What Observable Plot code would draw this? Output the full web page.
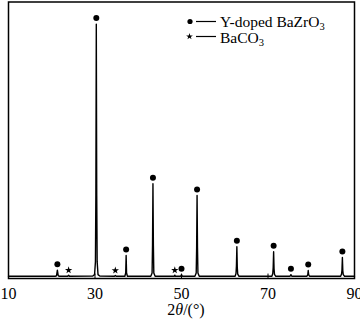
<!DOCTYPE html>
<html>
<head>
<meta charset="utf-8">
<script src="https://cdn.jsdelivr.net/npm/d3@7"></script>
<script src="https://cdn.jsdelivr.net/npm/@observablehq/plot@0.6"></script>
<style>
  html, body { margin: 0; padding: 0; background: #fff; }
  #wrap { position: relative; width: 360px; height: 320px; font-family: "Liberation Serif", "Times New Roman", serif; color: #000; }
  #wrap svg { position: absolute; left: 0; top: 0; }
  .lg { position: absolute; font-size: 15.5px; line-height: 13px; height: 13px; white-space: nowrap; }
  .lg sub { font-size: 10.5px; vertical-align: -3px; line-height: 0; }
  #xt { position: absolute; left: 0; width: 372px; text-align: center; top: 301px; font-size: 16px; }
</style>
</head>
<body>
<div id="wrap">
  <div class="lg" style="left:220px; top:15px;">Y-doped BaZrO<sub>3</sub></div>
  <div class="lg" style="left:220px; top:31px;">BaCO<sub>3</sub></div>
  <div id="xt">2<i>θ</i>/(°)</div>
</div>
<script>
// XRD profile: 2θ (deg) and intensity (a.u., 0–1000)
const twoTheta = [10, 20.8, 21.1, 21.3, 21.5, 21.8, 23.7, 23.9, 24.1, 29.5, 29.9, 30.1, 30.2, 30.3, 30.4, 30.5, 30.7, 31.1,
  34.5, 34.7, 34.9, 36.9, 37.1, 37.2, 37.3, 37.5, 42.9, 43.2, 43.3, 43.4, 43.5, 43.6, 43.9,
  48.3, 48.45, 48.6, 49.8, 50.0, 50.2, 53.1, 53.4, 53.5, 53.6, 53.7, 53.8, 54.1,
  62.4, 62.6, 62.7, 62.8, 62.9, 63.0, 63.3, 70.9, 71.1, 71.2, 71.3, 71.4, 71.5, 71.8,
  75.1, 75.3, 75.5, 79.0, 79.2, 79.3, 79.4, 79.6, 86.8, 87.0, 87.1, 87.2, 87.3, 87.4, 87.7, 90];
const intensity = [8, 8, 10, 30, 10, 8, 8, 12, 8, 9, 14, 60, 300, 920, 300, 60, 14, 9,
  8, 11, 8, 8, 20, 83, 20, 8, 8, 20, 120, 343, 120, 20, 8,
  8, 12, 8, 8, 14, 8, 8, 20, 110, 300, 110, 20, 8,
  8, 18, 45, 115, 40, 16, 8, 8, 18, 40, 97, 35, 15, 8,
  8, 14, 8, 8, 14, 29, 14, 8, 8, 16, 30, 76, 28, 14, 8, 8];

// Peak markers
const bzPeaks = [21.3, 30.3, 37.2, 43.4, 50.0, 53.6, 62.8, 71.3, 75.3, 79.3, 87.2];
const bzHeights = [30, 920, 83, 343, 14, 300, 115, 97, 14, 29, 76];
const bcPeaks = [23.9, 34.7, 48.45];
const bcHeights = [12, 11, 12];

const xTicks = [10, 30, 50, 70, 90];

const profile = twoTheta.map((x, i) => ({x, y: intensity[i]}));
const bz = bzPeaks.map((x, i) => ({x, y: bzHeights[i]}));
const bc = bcPeaks.map((x, i) => ({x, y: bcHeights[i]}));

const chart = Plot.plot({
  width: 360,
  height: 320,
  marginTop: 1.5,
  marginBottom: 42,
  marginLeft: 8,
  marginRight: 6,
  style: {fontFamily: '"Liberation Serif", "Times New Roman", serif', fontSize: "16px", color: "#000", background: "transparent"},
  x: {domain: [10, 90]},
  y: {domain: [0, 1000], axis: null},
  marks: [
    Plot.line(profile, {x: "x", y: "y", stroke: "#000", strokeWidth: 1.4}),
    Plot.dot(bz, {x: "x", y: "y", dy: -6, r: 3, fill: "#000", stroke: "none"}),
    Plot.dot(bc, {x: "x", y: "y", dy: -5, r: 2.3, symbol: "star", fill: "#000", stroke: "none"}),
    Plot.ruleX(xTicks, {y1: 0, y2: 16, stroke: "#000", strokeWidth: 1}),
    Plot.axisX({ticks: xTicks, tickSize: 0, tickPadding: 9, tickFormat: d => String(d), label: null}),
    Plot.frame({stroke: "#000", strokeWidth: 1.5})
  ]
});
const wrap = document.getElementById("wrap");
wrap.insertBefore(chart, wrap.firstChild);

// legend symbols
const ns = "http://www.w3.org/2000/svg";
const lgSvg = document.createElementNS(ns, "svg");
lgSvg.setAttribute("width", 360); lgSvg.setAttribute("height", 60);
lgSvg.style.position = "absolute"; lgSvg.style.left = "0"; lgSvg.style.top = "0";
const c = document.createElementNS(ns, "circle");
c.setAttribute("cx", 190); c.setAttribute("cy", 21.5); c.setAttribute("r", 2.6); c.setAttribute("fill", "#000");
lgSvg.appendChild(c);
const st = document.createElementNS(ns, "path");
st.setAttribute("d", d3.symbol(d3.symbolStar, 14)());
st.setAttribute("transform", "translate(189.5,36.5)");
lgSvg.appendChild(st);
[21.5, 36.5].forEach(y => {
  const l = document.createElementNS(ns, "line");
  l.setAttribute("x1", 196); l.setAttribute("x2", 216); l.setAttribute("y1", y); l.setAttribute("y2", y);
  l.setAttribute("stroke", "#000"); l.setAttribute("stroke-width", 1.2);
  lgSvg.appendChild(l);
});
wrap.appendChild(lgSvg);
</script>
</body>
</html>
